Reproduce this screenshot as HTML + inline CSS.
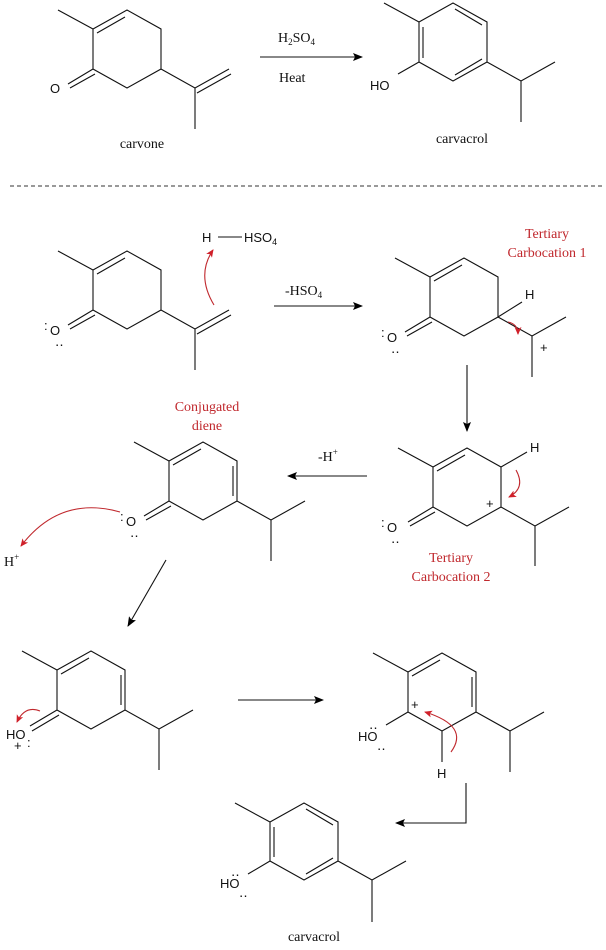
<!DOCTYPE html>
<html><head><meta charset="utf-8"><style>
html,body{margin:0;padding:0;background:#fff;}
svg{display:block;}
.s{font-family:"Liberation Serif",serif;font-size:14px;fill:#111;}
.a{font-family:"Liberation Sans",sans-serif;font-size:13px;fill:#111;}
.r{font-family:"Liberation Serif",serif;font-size:14px;fill:#c0282d;}
</style></head><body>
<svg width="606" height="950" viewBox="0 0 606 950" xmlns="http://www.w3.org/2000/svg">
<defs>
<marker id="ah" markerWidth="10" markerHeight="8" refX="9" refY="4" orient="auto" markerUnits="userSpaceOnUse"><path d="M0,0 L10,4 L0,8 L2,4 z" fill="#000"/></marker>
<marker id="rh" markerWidth="8" markerHeight="7" refX="7" refY="3.5" orient="auto" markerUnits="userSpaceOnUse"><path d="M0,0 L8,3.5 L0,7 L2,3.5 z" fill="#d0202a"/></marker>
</defs>
<g stroke="#111" stroke-width="1.1" fill="none">
<!-- carvone -->
<path d="M58,10 L93,29 M93,29 L127,10 L161,29 L161,69 L127,88 L93,69 Z M97,33 L125,17 M93,69 L68,84 M95,74 L70,88 M161,69 L195,88 L229,69 M197,93 L231,74 M195,88 L195,129"/>
<!-- carvacrol top -->
<path d="M384,3 L419,22 M419,22 L453,3 L487,22 L487,62 L453,81 L419,62 Z M423,27 L423,58 M455,9 L482,25 M482,59 L455,75 M419,62 L398,74 M487,62 L521,81 L555,62 M521,81 L521,122"/>
<path d="M260,57 L362,57" marker-end="url(#ah)"/>
</g>
<line x1="10" y1="186" x2="604" y2="186" stroke="#333" stroke-width="1" stroke-dasharray="4,3"/>
<g stroke="#111" stroke-width="1.1" fill="none">
<!-- Mol A -->
<path d="M58,251 L93,270 M93,270 L127,251 L161,270 L161,310 L127,329 L93,310 Z M97,274 L125,258 M93,310 L68,325 M95,315 L70,329 M161,310 L195,329 L229,310 M197,334 L231,315 M195,329 L195,370"/>
<path d="M218,237 L242,237"/>
<path d="M274,306 L362,306" marker-end="url(#ah)"/>
<!-- Mol B -->
<path d="M395,258 L430,277 M430,277 L464,258 L498,277 L498,317 L464,336 L430,317 Z M434,281 L462,265 M430,317 L405,332 M432,322 L407,336 M498,317 L522,302 M498,317 L532,336 L566,317 M532,336 L532,377"/>
<path d="M467,365 L467,431" marker-end="url(#ah)"/>
<!-- Diene -->
<path d="M134,442 L169,461 M169,461 L203,442 L237,461 L237,501 L203,520 L169,501 Z M173,465 L201,449 M233,466 L233,496 M169,501 L144,516 M171,506 L146,520 M237,501 L271,520 L305,501 M271,520 L271,561"/>
<path d="M367,476 L288,476" marker-end="url(#ah)"/>
<!-- Mol C -->
<path d="M398,448 L433,467 M433,467 L467,448 L501,467 L501,507 L467,526 L433,507 Z M437,471 L465,455 M433,507 L408,522 M435,512 L410,526 M501,467 L527,452 M501,507 L535,526 L569,507 M535,526 L535,566"/>
<path d="M166,560 L128,626" marker-end="url(#ah)"/>
<!-- Mol D -->
<path d="M22,651 L57,670 M57,670 L91,651 L125,670 L125,710 L91,729 L57,710 Z M61,674 L89,658 M121,675 L121,705 M57,710 L30,726 M59,715 L32,731 M125,710 L159,729 L193,710 M159,729 L159,770"/>
<path d="M238,700 L323,700" marker-end="url(#ah)"/>
<!-- Mol E -->
<path d="M373,653 L408,672 M408,672 L442,653 L476,672 L476,712 L442,731 L408,712 Z M412,676 L440,660 M472,677 L472,707 M408,712 L386,725 M442,731 L442,762 M476,712 L510,731 L544,712 M510,731 L510,772"/>
<path d="M466,783 L466,823 L396,823" marker-end="url(#ah)"/>
<!-- Carvacrol bottom -->
<path d="M235,803 L270,822 M270,822 L304,803 L338,822 L338,861 L304,880 L270,861 Z M274,827 L274,857 M306,809 L333,825 M333,858 L306,874 M270,861 L248,874 M338,861 L372,880 L406,861 M372,880 L372,922"/>
</g>
<g stroke="#c0282d" stroke-width="1.1" fill="none">
<path d="M214,305 Q196,275 213,250" marker-end="url(#rh)"/>
<path d="M508,322 Q518,324 518,334" marker-end="url(#rh)"/>
<path d="M120,512 Q60,495 21,546" marker-end="url(#rh)"/>
<path d="M516,470 Q526,488 509,497" marker-end="url(#rh)"/>
<path d="M40,711 Q25,705 17,722" marker-end="url(#rh)"/>
<path d="M451,752 Q470,726 425,712" marker-end="url(#rh)"/>
</g>
<text class="a" x="50" y="93">O</text>
<text class="s" x="142" y="148" text-anchor="middle">carvone</text>
<text class="s" x="278" y="42">H<tspan font-size="9" dy="3">2</tspan><tspan dy="-3">SO</tspan><tspan font-size="9" dy="3">4</tspan></text>
<text class="s" x="279" y="82">Heat</text>
<text class="a" x="370" y="90">HO</text>
<text class="s" x="462" y="143" text-anchor="middle">carvacrol</text>

<text class="a" x="202" y="242">H</text>
<text class="a" x="244" y="242">HSO<tspan font-size="9" dy="3">4</tspan></text>
<text class="s" x="285" y="295">-HSO<tspan font-size="9" dy="3">4</tspan></text>
<text class="a" x="50" y="335">O</text>
<text class="a" x="44" y="330" font-size="10">:</text>
<text class="a" x="55" y="346" font-size="10">‥</text>
<text class="r" x="547" y="238" text-anchor="middle">Tertiary</text>
<text class="r" x="547" y="257" text-anchor="middle">Carbocation 1</text>
<text class="a" x="525" y="299">H</text>
<text class="a" x="387" y="342">O</text>
<text class="a" x="381" y="337" font-size="10">:</text>
<text class="a" x="391" y="353" font-size="10">‥</text>
<text class="a" x="540" y="352" font-size="15">+</text>

<text class="r" x="207" y="411" text-anchor="middle">Conjugated</text>
<text class="r" x="207" y="430" text-anchor="middle">diene</text>
<text class="s" x="318" y="461">-H<tspan font-size="9" dy="-6">+</tspan></text>
<text class="a" x="126" y="526">O</text>
<text class="a" x="120" y="521" font-size="10">:</text>
<text class="a" x="130" y="537" font-size="10">‥</text>
<text class="s" x="4" y="566">H<tspan font-size="9" dy="-6">+</tspan></text>

<text class="a" x="530" y="452">H</text>
<text class="a" x="486" y="508" font-size="14">+</text>
<text class="a" x="387" y="532">O</text>
<text class="a" x="381" y="527" font-size="10">:</text>
<text class="a" x="391" y="543" font-size="10">‥</text>
<text class="r" x="451" y="562" text-anchor="middle">Tertiary</text>
<text class="r" x="451" y="581" text-anchor="middle">Carbocation 2</text>

<text class="a" x="6" y="739">HO</text>
<text class="a" x="14" y="750" font-size="14">+</text>
<text class="a" x="27" y="747" font-size="10">:</text>
<text class="a" x="358" y="741">HO</text>
<text class="a" x="369" y="729" font-size="10">‥</text>
<text class="a" x="377" y="750" font-size="10">‥</text>
<text class="a" x="411" y="709" font-size="14">+</text>
<text class="a" x="437" y="778">H</text>

<text class="a" x="220" y="888">HO</text>
<text class="a" x="231" y="876" font-size="10">‥</text>
<text class="a" x="239" y="897" font-size="10">‥</text>
<text class="s" x="314" y="941" text-anchor="middle">carvacrol</text>
</svg>
</body></html>
